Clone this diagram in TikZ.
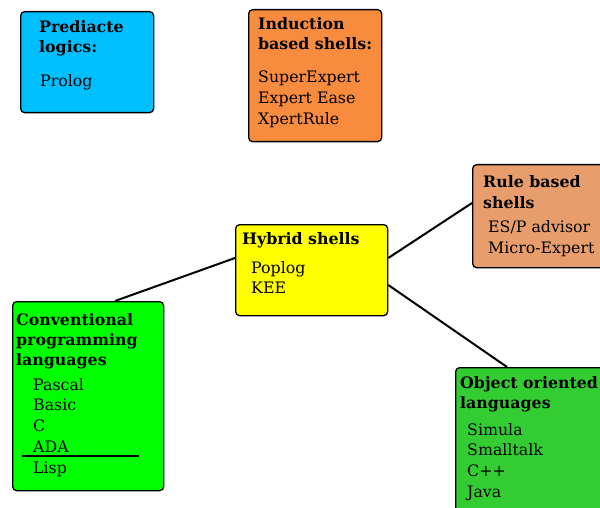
\documentclass[tikz,border=0pt]{standalone}
\usepackage{fontspec}
\setmainfont{DejaVu Serif}
\usetikzlibrary{calc}
\definecolor{cblue}{RGB}{0,191,255}
\definecolor{corange}{RGB}{247,140,62}
\definecolor{ctan}{RGB}{232,158,108}
\definecolor{cyel}{RGB}{255,255,0}
\definecolor{cgreen}{RGB}{0,255,0}
\definecolor{cgreenb}{RGB}{51,204,51}
\tikzset{
  box/.style={draw=black, line width=1.3pt, rounded corners=4pt, inner sep=0pt, anchor=north west},
  head/.style={anchor=base west, inner sep=0pt, font=\fontsize{15.8}{20}\selectfont\bfseries},
  item/.style={anchor=base west, inner sep=0pt, font=\fontsize{15.8}{20}\selectfont},
  conn/.style={draw=black, line width=2pt},
}
\begin{document}
\begin{tikzpicture}[x=1pt,y=-1pt]
\useasboundingbox (0,0) rectangle (600,508);
\clip (0,0) rectangle (600,508);
\fill[white] (0,0) rectangle (600,508);
% boxes
\node[box, fill=cblue, minimum width=133pt, minimum height=101pt] (pred) at (20,11) {};
\node[box, fill=corange, minimum width=133pt, minimum height=132pt] (ind) at (248,9) {};
\node[box, fill=ctan, minimum width=140pt, minimum height=103pt] (rule) at (472,164) {};
\node[box, fill=cyel, minimum width=152pt, minimum height=91pt] (hyb) at (235,224) {};
\node[box, fill=cgreen, minimum width=151pt, minimum height=189pt] (conv) at (12,301) {};
\node[box, fill=cgreenb, minimum width=160pt, minimum height=160pt] (oo) at (455,367) {};
% connectors
\draw[conn] ($(hyb.north west)+(0,34)$) -- ($(conv.north west)+(103,0)$);
\draw[conn] ($(hyb.north east)+(0,34)$) -- ($(rule.north west)+(0,39)$);
\draw[conn] ($(hyb.north east)+(0,61)$) -- ($(oo.north west)+(52,0)$);
% Predicate logics
\node[head] (pred-h1) at (39,33) {Prediacte};
\node[head] (pred-h2) at (39,53) {logics:};
\node[item] (pred-1) at (40,87) {Prolog};
% Induction
\node[head] (ind-h1) at (258,30) {Induction};
\node[head] (ind-h2) at (258,50) {based shells:};
\foreach \t [count=\i] in {SuperExpert, Expert Ease, XpertRule}
  \node[item] (ind-\i) at (258,{83+21*(\i-1)}) {\t};
% Rule based
\node[head] (rule-h1) at (483,187) {Rule based};
\node[head] (rule-h2) at (483,208) {shells};
\foreach \t [count=\i] in {ES/P advisor, Micro-Expert}
  \node[item] (rule-\i) at (488,{233+20.5*(\i-1)}) {\t};
% Hybrid
\node[head] (hyb-h1) at (242,244) {Hybrid shells};
\foreach \t [count=\i] in {Poplog, KEE}
  \node[item] (hyb-\i) at (251,{273+20.5*(\i-1)}) {\t};
% Conventional
\node[head] (conv-h1) at (16,325) {Conventional};
\node[head] (conv-h2) at (16,345) {programming};
\node[head] (conv-h3) at (16,365) {languages};
\foreach \t [count=\i] in {Pascal, Basic, C, ADA, Lisp}
  \node[item] (conv-\i) at (33,{390+20.8*(\i-1)}) {\t};
\draw[line width=1.3pt] (22,456) -- (139,456);
% Object oriented
\node[head] (oo-h1) at (460,388) {Object oriented};
\node[head] (oo-h2) at (460,408) {languages};
\foreach \t [count=\i] in {Simula, Smalltalk, C++, Java}
  \node[item] (oo-\i) at (467,{435+20.7*(\i-1)}) {\t};
\end{tikzpicture}
\end{document}
